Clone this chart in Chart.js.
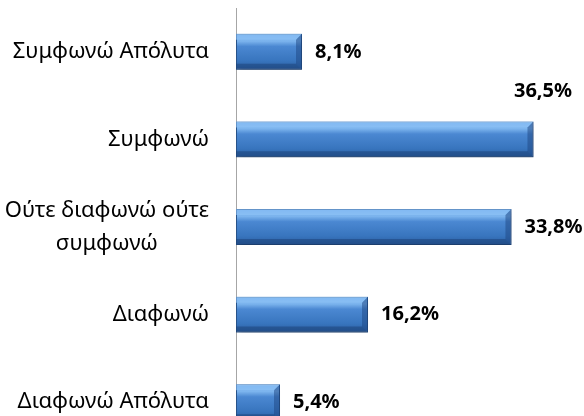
<!DOCTYPE html>
<html>
<head>
<meta charset="utf-8">
<script src="https://cdn.jsdelivr.net/npm/chart.js@4"></script>
<style>
html, body { margin: 0; padding: 0; background: #fff; overflow: hidden; }
#wrap { width: 584px; height: 446px; position: relative; }
</style>
</head>
<body>
<div id="wrap"><canvas id="myChart"></canvas></div>
<script>
var categories = ["Συμφωνώ Απόλυτα", "Συμφωνώ", ["Ούτε διαφωνώ ούτε", "συμφωνώ"], "Διαφωνώ", "Διαφωνώ Απόλυτα"];
var values = [8.1, 36.5, 33.8, 16.2, 5.4];
var valueLabels = ["8,1%", "36,5%", "33,8%", "16,2%", "5,4%"];

var labelFont = "22px 'Noto Sans'";
var valueFont = "bold 20px 'Noto Sans'";

function barGradient(c) {
  var chart = c.chart;
  var y = chart.scales.y;
  if (!y || !chart.chartArea) return "#3f7bc4";
  var size = (y.bottom - y.top) / categories.length * 0.41;
  var mid = y.getPixelForValue(c.dataIndex);
  var g = chart.ctx.createLinearGradient(0, mid - size / 2, 0, mid + size / 2);
  g.addColorStop(0, "#6aa6e8");
  g.addColorStop(0.2, "#7db5ee");
  g.addColorStop(0.35, "#4b88d2");
  g.addColorStop(0.75, "#3875be");
  g.addColorStop(1, "#2a5c9e");
  return g;
}

// bevel, shadow and text
var barLook = {
  id: "barLook",
  beforeDatasetsDraw: function(chart) {
    var ctx = chart.ctx;
    ctx.save();
    ctx.shadowColor = "rgba(0,0,0,0.3)";
    ctx.shadowBlur = 6;
    ctx.shadowOffsetX = 2;
    ctx.shadowOffsetY = 4;
  },
  afterDatasetsDraw: function(chart) {
    var ctx = chart.ctx;
    ctx.restore();
    var bars = chart.getDatasetMeta(0).data;

    bars.forEach(function(bar) {
      var L = bar.base, R = bar.x, T = bar.y - bar.height / 2, B = bar.y + bar.height / 2, b = 6;
      ctx.save();
      ctx.fillStyle = "rgba(150,200,250,0.55)";
      ctx.beginPath();
      ctx.moveTo(L, T); ctx.lineTo(R, T); ctx.lineTo(R - b, T + b); ctx.lineTo(L, T + b);
      ctx.fill();
      ctx.fillStyle = "rgba(25,60,110,0.45)";
      ctx.beginPath();
      ctx.moveTo(L, B); ctx.lineTo(R, B); ctx.lineTo(R - b, B - b); ctx.lineTo(L, B - b);
      ctx.fill();
      ctx.fillStyle = "rgba(30,70,130,0.5)";
      ctx.beginPath();
      ctx.moveTo(R, T); ctx.lineTo(R, B); ctx.lineTo(R - b, B - b); ctx.lineTo(R - b, T + b);
      ctx.fill();
      ctx.restore();
    });

    ctx.save();
    ctx.fillStyle = "#000";
    ctx.textBaseline = "middle";

    // value labels, moved above the bar when they do not fit
    ctx.font = valueFont;
    bars.forEach(function(bar, i) {
      var txt = valueLabels[i];
      var w = ctx.measureText(txt).width;
      if (bar.x + 13 + w > chart.width + 8) {
        ctx.textAlign = "right";
        ctx.fillText(txt, chart.width - 12, bar.y - 48);
      } else {
        ctx.textAlign = "left";
        ctx.fillText(txt, bar.x + 13, bar.y);
      }
    });

    // category labels, block right aligned, lines centered
    ctx.font = labelFont;
    ctx.textAlign = "center";
    var yScale = chart.scales.y;
    var right = chart.chartArea.left - 27;
    categories.forEach(function(cat, i) {
      var lines = Array.isArray(cat) ? cat : [cat];
      var w = 0;
      lines.forEach(function(l) { w = Math.max(w, ctx.measureText(l).width); });
      var cy = yScale.getPixelForValue(i);
      lines.forEach(function(l, j) {
        ctx.fillText(l, right - w / 2, cy + (j - (lines.length - 1) / 2) * 33);
      });
    });
    ctx.restore();
  }
};

new Chart("myChart", {
  type: "bar",
  data: {
    labels: categories,
    datasets: [{
      data: values,
      backgroundColor: barGradient,
      borderColor: "#2a5892",
      borderWidth: 1,
      borderSkipped: false,
      barPercentage: 0.41,
      categoryPercentage: 1
    }]
  },
  options: {
    indexAxis: "y",
    responsive: true,
    maintainAspectRatio: false,
    animation: false,
    layout: { padding: { top: 8, right: 22, left: 0, bottom: 0 } },
    plugins: {
      legend: { display: false },
      tooltip: { enabled: false }
    },
    scales: {
      x: { display: false, min: 0, max: 40 },
      y: {
        ticks: { display: false },
        grid: { display: false },
        border: { display: true, color: "#a6a6a6", width: 1 },
        afterFit: function(scale) { scale.width = 236; }
      }
    }
  },
  plugins: [barLook]
});
</script>
</body>
</html>
